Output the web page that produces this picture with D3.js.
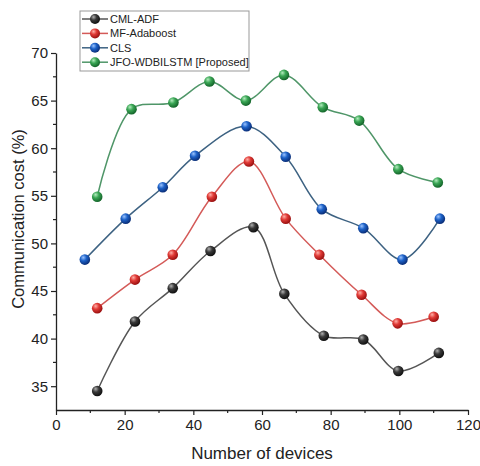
<!DOCTYPE html>
<html>
<head>
<meta charset="utf-8">
<script src="https://cdn.jsdelivr.net/npm/d3@7"></script>
<style>
  body { margin: 0; background: #fff; }
  text { font-family: "Liberation Sans", Arial, sans-serif; fill: #222; }
</style>
</head>
<body>
<div id="chart"></div>
<script>
// Data
const seriesNames = ["CML-ADF", "MF-Adaboost", "CLS", "JFO-WDBILSTM [Proposed]"];

const cmlX = [12, 23, 34, 45, 57.5, 66.5, 78, 89.5, 99.7, 111.5];
const cmlY = [34.5, 41.8, 45.3, 49.2, 51.7, 44.7, 40.3, 39.9, 36.6, 38.5];

const mfX = [12, 23, 34, 45.4, 56.2, 66.9, 76.7, 89, 99.5, 110];
const mfY = [43.2, 46.2, 48.8, 54.9, 58.6, 52.6, 48.8, 44.6, 41.6, 42.3];

const clsX = [8.4, 20.3, 31.1, 40.5, 55.5, 66.9, 77.4, 89.5, 100.9, 111.8];
const clsY = [48.3, 52.6, 55.9, 59.2, 62.3, 59.1, 53.6, 51.6, 48.3, 52.6];

const jfoX = [12, 22, 34.2, 44.7, 55.3, 66.4, 77.7, 88.3, 99.7, 111.2];
const jfoY = [54.9, 64.1, 64.8, 67.0, 65.0, 67.7, 64.3, 62.9, 57.8, 56.4];

const xTicks = [0, 20, 40, 60, 80, 100, 120];
const yTicks = [35, 40, 45, 50, 55, 60, 65, 70];

const W = 480, H = 466;
const margin = { left: 56, right: 12, top: 53, bottom: 56 };

const svg = d3.select("#chart").append("svg")
  .attr("width", W)
  .attr("height", H);

const x = d3.scaleLinear().domain([0, 120]).range([margin.left, W - margin.right]);
const y = d3.scaleLinear().domain([32.5, 70]).range([H - margin.bottom, margin.top]);

// sphere look for markers
const styles = [
  { base: "#3a3a3a", light: "#b0b0b0", dark: "#101010", line: "#555555" },
  { base: "#e03a36", light: "#ffb0a8", dark: "#9a1010", line: "#d45a58" },
  { base: "#1d62c8", light: "#9cc4ff", dark: "#0a2e78", line: "#3d6282" },
  { base: "#3aa655", light: "#b4ecbe", dark: "#14652a", line: "#4f9668" }
];

const defs = svg.append("defs");
styles.forEach((s, i) => {
  const g = defs.append("radialGradient")
    .attr("id", "ball" + i)
    .attr("cx", "38%").attr("cy", "35%").attr("r", "65%")
    .attr("fx", "35%").attr("fy", "30%");
  g.append("stop").attr("offset", "0%").attr("stop-color", s.light);
  g.append("stop").attr("offset", "45%").attr("stop-color", s.base);
  g.append("stop").attr("offset", "100%").attr("stop-color", s.dark);
});

// axes
const xAxis = d3.axisBottom(x).tickValues(xTicks).tickSize(5).tickPadding(4).tickSizeOuter(0);
const yAxis = d3.axisLeft(y).tickValues(yTicks).tickSize(5).tickPadding(3).tickSizeOuter(0);

const gx = svg.append("g")
  .attr("transform", `translate(0,${y(32.5)})`)
  .call(xAxis);
const gy = svg.append("g")
  .attr("transform", `translate(${x(0)},0)`)
  .call(yAxis);

[gx, gy].forEach(g => {
  g.select(".domain").attr("stroke", "#222").attr("stroke-width", 1.3);
  g.selectAll(".tick line").attr("stroke", "#222").attr("stroke-width", 1.2);
  g.selectAll(".tick text").style("font-size", "15px").attr("fill", "#222");
});

// minor ticks
svg.append("g").selectAll("line")
  .data(d3.range(10, 120, 20))
  .join("line")
  .attr("x1", d => x(d)).attr("x2", d => x(d))
  .attr("y1", y(32.5)).attr("y2", y(32.5) + 3)
  .attr("stroke", "#222").attr("stroke-width", 1.2);
svg.append("g").selectAll("line")
  .data(d3.range(37.5, 70, 5))
  .join("line")
  .attr("x1", x(0)).attr("x2", x(0) - 3)
  .attr("y1", d => y(d)).attr("y2", d => y(d))
  .attr("stroke", "#222").attr("stroke-width", 1.2);

// axis titles
svg.append("text")
  .attr("x", (x(0) + x(120)) / 2)
  .attr("y", 459)
  .attr("text-anchor", "middle")
  .style("font-size", "17px")
  .text("Number of devices");

svg.append("text")
  .attr("transform", "translate(24,219) rotate(-90)")
  .attr("text-anchor", "middle")
  .style("font-size", "16.5px")
  .text("Communication cost (%)");

// lines and markers
const series = [
  { xs: cmlX, ys: cmlY },
  { xs: mfX, ys: mfY },
  { xs: clsX, ys: clsY },
  { xs: jfoX, ys: jfoY }
];

const line = d3.line()
  .x(d => x(d[0]))
  .y(d => y(d[1]))
  .curve(d3.curveCatmullRom.alpha(0.5));

series.forEach((s, i) => {
  const pts = s.xs.map((v, k) => [v, s.ys[k]]);
  svg.append("path")
    .datum(pts)
    .attr("fill", "none")
    .attr("stroke", styles[i].line)
    .attr("stroke-width", 1.5)
    .attr("d", line);
  svg.append("g").selectAll("circle")
    .data(pts)
    .join("circle")
    .attr("cx", d => x(d[0]))
    .attr("cy", d => y(d[1]))
    .attr("r", 5.3)
    .attr("fill", `url(#ball${i})`);
});

// legend
const legend = svg.append("g").attr("transform", "translate(80,11)");
legend.append("rect")
  .attr("width", 169).attr("height", 60)
  .attr("fill", "#fff")
  .attr("stroke", "#999").attr("stroke-width", 1);
seriesNames.forEach((name, i) => {
  const ly = 8 + i * 14.4;
  const row = legend.append("g").attr("transform", `translate(0,${ly})`);
  row.append("line")
    .attr("x1", 2).attr("x2", 28)
    .attr("stroke", styles[i].line).attr("stroke-width", 1.5);
  row.append("circle")
    .attr("cx", 15).attr("r", 5)
    .attr("fill", `url(#ball${i})`);
  row.append("text")
    .attr("x", 30).attr("dy", "0.35em")
    .style("font-size", "11px")
    .text(name);
});
</script>
</body>
</html>
